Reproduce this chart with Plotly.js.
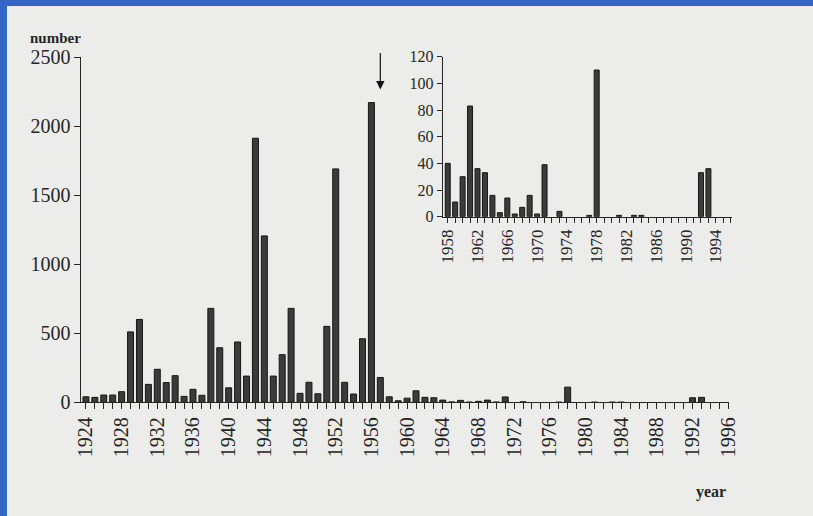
<!DOCTYPE html>
<html>
<head>
<meta charset="utf-8">
<script src="https://cdn.plot.ly/plotly-3.0.1.min.js"></script>
<style>
  html, body { margin: 0; padding: 0; background: #3266c8; width: 813px; height: 516px; overflow: hidden; }
  #chart { position: absolute; left: 7px; top: 6px; width: 806px; height: 510px; }
</style>
</head>
<body>
<div id="chart"></div>
<script>
// Main chart, 1924-1957 (number per year)
const yearsEarly = [1924,1925,1926,1927,1928,1929,1930,1931,1932,1933,1934,1935,1936,1937,1938,1939,1940,
                    1941,1942,1943,1944,1945,1946,1947,1948,1949,1950,1951,1952,1953,1954,1955,1956,1957];
const countsEarly = [40,36,53,53,77,510,600,130,239,143,193,43,94,51,680,395,105,
                     437,190,1912,1205,190,345,680,65,145,62,550,1690,145,60,460,2170,180];

// 1958-1995 (also shown enlarged in the inset)
const yearsLate = [1958,1959,1960,1961,1962,1963,1964,1965,1966,1967,1968,1969,1970,1971,1972,1973,1974,1975,1976,
                   1977,1978,1979,1980,1981,1982,1983,1984,1985,1986,1987,1988,1989,1990,1991,1992,1993,1994,1995];
const countsLate = [40,11,30,83,36,33,16,3,14,2,7,16,2,39,0,4,0,0,0,
                    1,110,0,0,1,0,1,1,0,0,0,0,0,0,0,33,36,0,0];

// Tick labels
const mainYTicks = [0,500,1000,1500,2000,2500];
const insetYTicks = [0,20,40,60,80,100,120];

const arrowYear = 1957;

const mainYears = yearsEarly.concat(yearsLate);
const mainCounts = countsEarly.concat(countsLate);

const serif = "Liberation Serif, Times New Roman, serif";
const ink = "#262626";
const paper = "#ececeb";

function barMarker(vals) {
  return { color: "#3b3b3b", line: { color: "#161616", width: vals.map(v => v > 0 ? 1 : 0) } };
}

const traces = [
  { type: "bar", x: mainYears, y: mainCounts, xaxis: "x", yaxis: "y", marker: barMarker(mainCounts), hoverinfo: "x+y" },
  { type: "bar", x: yearsLate, y: countsLate, xaxis: "x2", yaxis: "y2", marker: barMarker(countsLate), hoverinfo: "x+y" }
];

const axisCommon = {
  showgrid: false, zeroline: false, showline: true, linecolor: ink, linewidth: 1,
  ticks: "outside", tickcolor: ink, tickwidth: 1, color: ink, fixedrange: true
};

const layout = {
  width: 806, height: 510,
  margin: { l: 0, r: 0, t: 0, b: 0 },
  paper_bgcolor: paper, plot_bgcolor: "rgba(0,0,0,0)",
  showlegend: false, bargap: 0.33,
  font: { family: serif, color: ink },
  xaxis: Object.assign({}, axisCommon, {
    domain: [0.0924, 0.8954], anchor: "y",
    range: [1923.5, 1996.05],
    tickmode: "linear", tick0: 1924, dtick: 4, ticklen: 6,
    tickangle: -90, tickfont: { family: serif, size: 20, color: ink },
    minor: { tickmode: "linear", tick0: 1924, dtick: 1, ticks: "outside", ticklen: 6, tickcolor: ink, tickwidth: 1 }
  }),
  yaxis: Object.assign({}, axisCommon, {
    domain: [0.2229, 0.9], anchor: "x",
    range: [0, 2500], tickmode: "array", tickvals: mainYTicks, ticktext: mainYTicks.map(String),
    ticklen: 6, tickfont: { family: serif, size: 20, color: ink }
  }),
  xaxis2: Object.assign({}, axisCommon, {
    domain: [0.5406, 0.8989], anchor: "y2",
    range: [1957.33, 1996.1],
    tickmode: "linear", tick0: 1958, dtick: 4, ticklen: 5,
    tickangle: -90, tickfont: { family: serif, size: 17, color: ink },
    minor: { tickmode: "linear", tick0: 1958, dtick: 1, ticks: "outside", ticklen: 5, tickcolor: ink, tickwidth: 1 }
  }),
  yaxis2: Object.assign({}, axisCommon, {
    domain: [0.5869, 0.9006], anchor: "x2",
    range: [0, 120], tickmode: "array", tickvals: insetYTicks, ticktext: insetYTicks.map(String),
    ticklen: 5, tickfont: { family: serif, size: 16, color: ink }
  }),
  annotations: [
    { xref: "paper", yref: "paper", x: 0.026, y: 0.937, xanchor: "left", yanchor: "middle",
      text: "<b>number</b>", showarrow: false, font: { family: serif, size: 15, color: ink } },
    { xref: "paper", yref: "paper", x: 0.8945, y: 0.047, xanchor: "right", yanchor: "middle",
      text: "<b>year</b>", showarrow: false, font: { family: serif, size: 16, color: ink } },
    { xref: "x", yref: "y", x: arrowYear, y: 2265, ax: 0, ay: -38, text: "",
      showarrow: true, arrowhead: 2, arrowsize: 1.4, arrowwidth: 1.2, arrowcolor: "#111" }
  ]
};

Plotly.newPlot("chart", traces, layout, { displayModeBar: false, staticPlot: true });
</script>
</body>
</html>
